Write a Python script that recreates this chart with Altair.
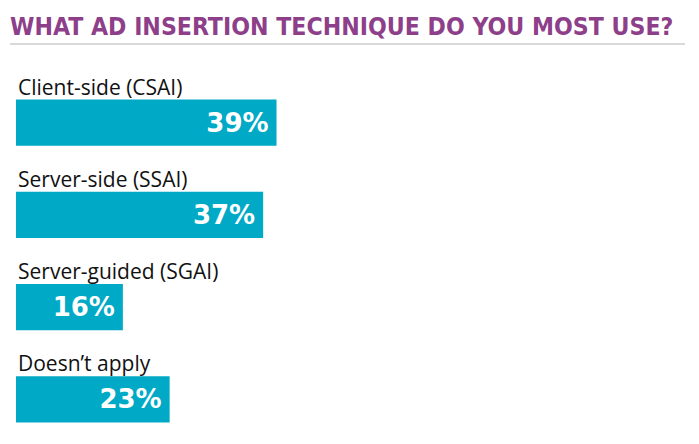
import altair as alt
import pandas as pd

categories = ["Client-side (CSAI)", "Server-side (SSAI)", "Server-guided (SGAI)", "Doesn\u2019t apply"]
values = [39, 37, 16, 23]
title_text = "WHAT AD INSERTION TECHNIQUE DO YOU MOST USE?"

df = pd.DataFrame({"cat": categories, "val": values})
df["lab"] = df["val"].astype(str) + "%"

xs = alt.Scale(domain=[0, 100], range=[8, 676])
ys = alt.Scale(domain=categories, range=[91.5, 414.5], paddingInner=0.5, paddingOuter=0)

base = alt.Chart(df)

bars = base.mark_bar(color="#00A9C5").encode(
    x=alt.X("val:Q", scale=xs, axis=None),
    x2=alt.datum(0),
    y=alt.Y("cat:N", scale=ys, axis=None, sort=categories),
)

vals = base.mark_text(color="white", font="DejaVu Sans", fontWeight="bold", fontSize=26,
                      align="right", baseline="middle", dx=-8, dy=1).encode(
    x=alt.X("val:Q", scale=xs),
    y=alt.Y("cat:N", scale=ys, sort=categories),
    text="lab:N",
)

cats = base.mark_text(color="#111111", font="Open Sans", fontSize=21, align="left",
                      baseline="alphabetic", dy=-5).encode(
    x=alt.value(10),
    y=alt.Y("cat:N", scale=ys, sort=categories, bandPosition=0),
    text="cat:N",
)

title = alt.Chart(pd.DataFrame({"t": [title_text]})).mark_text(
    color="#8E3F8A", font="DejaVu Sans Condensed", fontWeight="bold", fontSize=24.6,
    align="left", baseline="alphabetic").encode(
    x=alt.value(2), y=alt.value(26.5), text="t:N")

rule = alt.Chart(pd.DataFrame({"a": [0]})).mark_rule(color="#CCCCCC", strokeWidth=1.5).encode(
    x=alt.value(2), x2=alt.value(677), y=alt.value(36))

chart = alt.layer(rule, title, bars, vals, cats).properties(
    width=683, height=428, autosize=alt.AutoSizeParams(type="none"), padding=0
).configure_view(stroke=None)

chart.save("out.html", embed_options={"renderer": "svg", "actions": False})
